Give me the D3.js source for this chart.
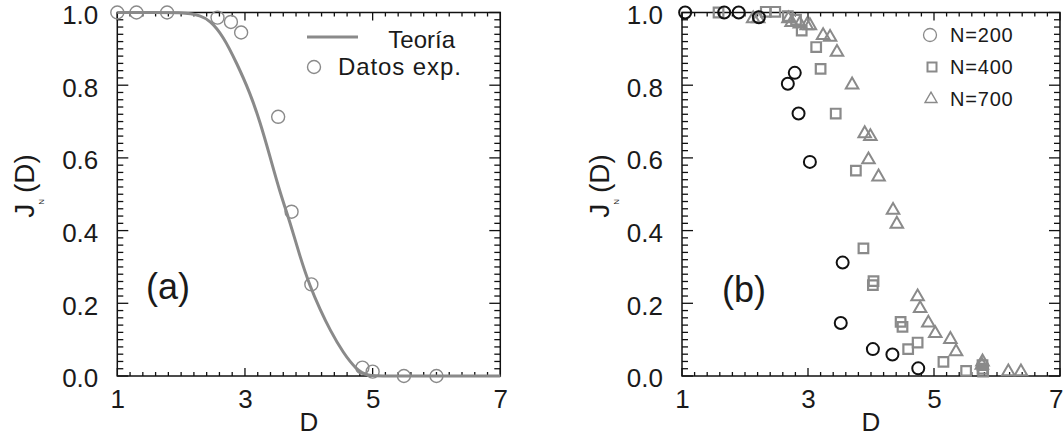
<!DOCTYPE html>
<html><head><meta charset="utf-8">
<script src="https://cdn.jsdelivr.net/npm/d3@7"></script>
<style>
body{margin:0;background:#fff}
text{font-family:"Liberation Sans",Arial,sans-serif;fill:#1a1a1a}
</style>
</head><body>
<svg id="c" width="1064" height="437"></svg>
<script>
// ---------------- data ----------------
const xTickValues = [1, 3, 5, 7];
const yTickValues = [0, 0.2, 0.4, 0.6, 0.8, 1.0];
const panelLabels = ["(a)", "(b)"];
const legendA = ["Teoría", "Datos exp."];
const legendB = ["N=200", "N=400", "N=700"];

// (a) theoretical curve
const theoryD = [1.0, 1.6, 2.0, 2.15, 2.3, 2.45, 2.66, 2.87, 3.08, 3.24, 3.39, 3.55, 3.71, 3.86, 4.02, 4.18, 4.33, 4.54, 4.75, 4.91, 5.2, 6.0, 7.0];
const theoryJ = [1.0, 1.0, 1.0, 0.997, 0.991, 0.979, 0.935, 0.861, 0.779, 0.697, 0.605, 0.504, 0.421, 0.329, 0.246, 0.182, 0.127, 0.063, 0.017, 0.0, 0.0, 0.0, 0.0];
// (a) experimental data
const expD = [1.0, 1.3, 1.78, 2.57, 2.78, 2.94, 3.52, 3.73, 4.04, 4.84, 5.0, 5.49, 6.0];
const expJ = [1.0, 1.0, 1.0, 0.986, 0.974, 0.945, 0.713, 0.452, 0.252, 0.023, 0.012, 0.0, 0.0];

// (b) simulations
const n200D = [1.05, 1.67, 1.90, 2.22, 2.68, 2.79, 2.85, 3.03, 3.55, 3.52, 4.03, 4.34, 4.75];
const n200J = [1.0, 1.0, 1.0, 0.987, 0.804, 0.834, 0.722, 0.589, 0.312, 0.146, 0.074, 0.059, 0.021];
const n400D = [1.58, 2.33, 2.48, 2.68, 2.81, 2.90, 3.13, 3.20, 3.44, 3.76, 3.88, 4.03, 4.04, 4.47, 4.50, 4.59, 4.74, 5.15, 5.51, 5.77, 5.77, 5.78];
const n400J = [1.0, 1.002, 1.002, 0.99, 0.98, 0.95, 0.905, 0.845, 0.722, 0.565, 0.351, 0.25, 0.261, 0.149, 0.135, 0.074, 0.092, 0.039, 0.014, 0.03, 0.02, 0.012];
const n700D = [2.13, 2.21, 2.69, 2.74, 2.87, 2.98, 3.03, 3.24, 3.35, 3.46, 3.70, 3.90, 3.99, 3.96, 4.12, 4.35, 4.41, 4.74, 4.78, 4.91, 5.02, 5.26, 5.35, 5.77, 5.76, 6.18, 6.38];
const n700J = [0.983, 0.983, 0.983, 0.973, 0.969, 0.964, 0.964, 0.937, 0.932, 0.891, 0.801, 0.667, 0.659, 0.595, 0.548, 0.456, 0.418, 0.218, 0.186, 0.146, 0.117, 0.101, 0.067, 0.039, 0.03, 0.012, 0.012];

// ---------------- drawing ----------------
const svg = d3.select("#c");
const GRAY = "#8a8a8a", INK = "#111";
const FONT = '"Liberation Sans",Arial,sans-serif';

function makePanel(x0, x1, ylabX) {
  const x = d3.scaleLinear().domain([1, 7]).range([x0, x1]);
  const y = d3.scaleLinear().domain([0, 1]).range([376, 12.5]);
  const g = svg.append("g");
  const minorX = d3.range(0, 31).map(i => 1 + i * 0.2);
  const minorY = d3.range(0, 51).map(i => i * 0.02);
  const isMajorX = v => xTickValues.some(t => Math.abs(t - v) < 1e-6);
  const isMajorY = v => yTickValues.some(t => Math.abs(t - v) < 1e-6);
  const tk = g.append("g").attr("stroke", INK).attr("stroke-width", 1.3);
  // inward ticks on all four sides
  minorY.forEach(v => {
    const L = isMajorY(v) ? 11 : 6, yy = y(v);
    tk.append("line").attr("x1", x0).attr("x2", x0 + L).attr("y1", yy).attr("y2", yy);
    tk.append("line").attr("x1", x1).attr("x2", x1 - L).attr("y1", yy).attr("y2", yy);
  });
  minorX.forEach(v => {
    const L = isMajorX(v) ? 8 : 4, xx = x(v);
    tk.append("line").attr("x1", xx).attr("x2", xx).attr("y1", y(0)).attr("y2", y(0) - L);
    tk.append("line").attr("x1", xx).attr("x2", xx).attr("y1", y(1)).attr("y2", y(1) + L);
  });
  // tick labels through d3 axes
  const yl = g.append("g").attr("transform", `translate(${x0},0)`)
    .call(d3.axisLeft(y).tickValues(yTickValues).tickSizeInner(0).tickSizeOuter(0).tickPadding(19).tickFormat(d3.format(".1f")));
  yl.select(".domain").remove();
  yl.selectAll("text").attr("font-size", 26).attr("dy", "0.42em").attr("font-family", FONT).attr("fill", "#1a1a1a");
  const xl = g.append("g").attr("transform", `translate(0,${y(0)})`)
    .call(d3.axisBottom(x).tickValues(xTickValues).tickSizeInner(0).tickSizeOuter(0).tickPadding(14).tickFormat(d3.format("d")));
  xl.select(".domain").remove();
  xl.selectAll("text").attr("font-size", 26).attr("font-family", FONT).attr("fill", "#1a1a1a");
  // frame
  g.append("rect").attr("x", x0).attr("y", y(1)).attr("width", x1 - x0).attr("height", y(0) - y(1))
    .attr("fill", "none").attr("stroke", INK).attr("stroke-width", 1.5);
  // axis titles
  g.append("text").attr("x", (x0 + x1) / 2).attr("y", 431).attr("text-anchor", "middle").attr("font-size", 26).text("D");
  const t = g.append("text").attr("transform", `translate(${ylabX},186) rotate(-90)`).attr("text-anchor", "middle").attr("font-size", 28);
  t.append("tspan").text("J");
  t.append("tspan").attr("font-size", 8).attr("dy", 10).attr("dx", -1).text("N");
  t.append("tspan").attr("dy", -10).attr("dx", 6).text("(D)");
  return {x, y, g, xl};
}

// ----- panel (a)
const A = makePanel(117.3, 500.3, 34);
A.g.append("path")
  .datum(theoryD.map((d, i) => [d, theoryJ[i]]))
  .attr("fill", "none").attr("stroke", GRAY).attr("stroke-width", 3)
  .attr("d", d3.line().x(d => A.x(d[0])).y(d => A.y(d[1])).curve(d3.curveBasis));
A.g.selectAll("circle.exp").data(expD.map((d, i) => [d, expJ[i]])).join("circle")
  .attr("class", "exp").attr("cx", d => A.x(d[0])).attr("cy", d => A.y(d[1])).attr("r", 6.5)
  .attr("fill", "none").attr("stroke", GRAY).attr("stroke-width", 1.4);
A.g.append("text").attr("x", 146).attr("y", 299).attr("font-size", 36).text(panelLabels[0]);
// legend (a)
A.g.append("line").attr("x1", 307).attr("x2", 358).attr("y1", 37).attr("y2", 37).attr("stroke", GRAY).attr("stroke-width", 3);
A.g.append("text").attr("x", 455).attr("y", 48).attr("text-anchor", "end").attr("font-size", 24).text(legendA[0]);
A.g.append("circle").attr("cx", 314).attr("cy", 67).attr("r", 6.5).attr("fill", "none").attr("stroke", GRAY).attr("stroke-width", 1.4);
A.g.append("text").attr("x", 338).attr("y", 75).attr("font-size", 24).attr("letter-spacing", 0.9).text(legendA[1]);

// ----- panel (b)
const B = makePanel(682, 1060, 609);
// keep the last x tick label inside the window
B.xl.selectAll(".tick text").filter(d => d === 7).attr("text-anchor", "end").attr("dx", 3);
const sq = d3.symbol().type(d3.symbolSquare).size(92);
const tri = d3.symbol().type(d3.symbolTriangle).size(68);
B.g.selectAll("path.n400").data(n400D.map((d, i) => [d, n400J[i]])).join("path")
  .attr("class", "n400").attr("d", sq).attr("transform", d => `translate(${B.x(d[0])},${B.y(d[1])})`)
  .attr("fill", "none").attr("stroke", GRAY).attr("stroke-width", 2.2);
B.g.selectAll("path.n700").data(n700D.map((d, i) => [d, n700J[i]])).join("path")
  .attr("class", "n700").attr("d", tri).attr("transform", d => `translate(${B.x(d[0])},${B.y(d[1])})`)
  .attr("fill", "none").attr("stroke", GRAY).attr("stroke-width", 2);
B.g.selectAll("circle.n200").data(n200D.map((d, i) => [d, n200J[i]])).join("circle")
  .attr("class", "n200").attr("cx", d => B.x(d[0])).attr("cy", d => B.y(d[1])).attr("r", 6)
  .attr("fill", "none").attr("stroke", "#111").attr("stroke-width", 2);
B.g.append("text").attr("x", 722).attr("y", 302).attr("font-size", 36).text(panelLabels[1]);
// legend (b)
B.g.append("circle").attr("cx", 930).attr("cy", 35).attr("r", 6.5).attr("fill", "none").attr("stroke", GRAY).attr("stroke-width", 1.3);
B.g.append("path").attr("d", d3.symbol().type(d3.symbolSquare).size(81)()).attr("transform", "translate(932,67)")
  .attr("fill", "none").attr("stroke", GRAY).attr("stroke-width", 2);
B.g.append("path").attr("d", d3.symbol().type(d3.symbolTriangle).size(62)()).attr("transform", "translate(931,99)")
  .attr("fill", "none").attr("stroke", GRAY).attr("stroke-width", 1.4);
legendB.forEach((s, i) => {
  B.g.append("text").attr("x", 950).attr("y", 42 + i * 32).attr("font-size", 20).attr("letter-spacing", 0.8).text(s);
});
</script>
</body></html>
